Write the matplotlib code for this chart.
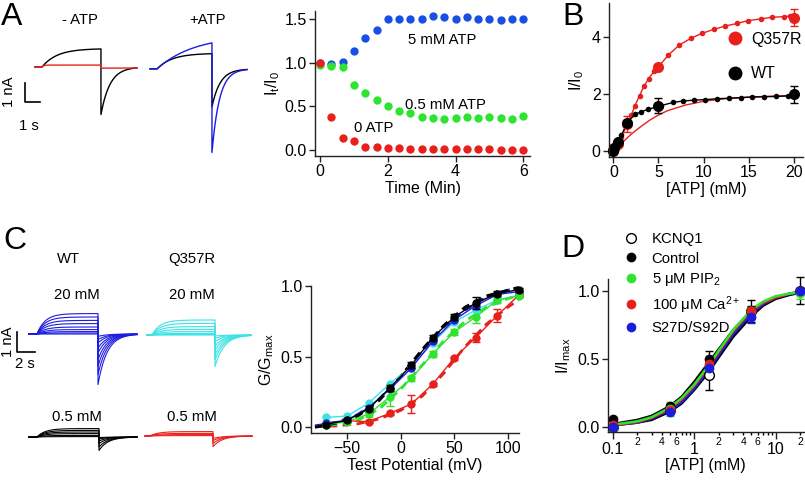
import numpy as np
import matplotlib
matplotlib.use('Agg')
import matplotlib.pyplot as plt
from matplotlib.ticker import FixedLocator, FixedFormatter

plt.rcParams['font.family'] = ['Liberation Sans', 'DejaVu Sans']
plt.rcParams['mathtext.fontset'] = 'custom'
plt.rcParams['mathtext.rm'] = 'Liberation Sans'
plt.rcParams['mathtext.it'] = 'Liberation Sans'
plt.rcParams['font.size'] = 11.5

RED = '#e8201c'
GREEN = '#2fe42f'
BLUE_TC = '#1a4fe6'
BLUE = '#1c1ce0'
CYAN = '#3ce3e6'
TXT = 10.7

# ---- panel A, time course (fraction of I0 vs minutes)
tc_time = [0, 0.33, 0.67, 1.0, 1.33, 1.67, 2.0, 2.33, 2.67, 3.0, 3.33, 3.67,
           4.0, 4.33, 4.67, 5.0, 5.33, 5.67, 6.0]
tc_5mM = [1.0, 0.99, 1.01, 1.14, 1.29, 1.38, 1.50, 1.51, 1.50, 1.51, 1.54, 1.53,
          1.51, 1.53, 1.51, 1.51, 1.49, 1.50, 1.51]
tc_05mM = [0.98, 0.97, 0.95, 0.75, 0.66, 0.57, 0.50, 0.45, 0.42, 0.38, 0.37, 0.36,
           0.37, 0.38, 0.37, 0.38, 0.37, 0.36, 0.39]
tc_0 = [1.0, 0.38, 0.14, 0.10, 0.03, 0.03, 0.02, 0.02, 0.01, 0.01, 0.01, 0.01,
        0.01, 0.01, 0.01, 0.01, 0.0, 0.0, 0.0]

# ---- panel A, example currents (nA): value at end of pulse, tail peak
a_minus_end = {'black': 0.95, 'red': 0.10}
a_minus_tail = {'black': -2.5, 'red': -0.06}
a_plus_end = {'black': 0.80, 'blue': 1.37}
a_plus_tail = {'black': -2.0, 'blue': -4.4}

# ---- panel B, dose response
atp_b = [0, 0.1, 0.5, 1.5, 5, 20]
q357r_b = [0.02, 0.10, 0.25, 0.95, 2.97, 4.70]
q357r_b_err = [0.05, 0.05, 0.10, 0.28, 0.10, 0.30]
wt_b = [0.0, 0.12, 0.33, 1.00, 1.60, 2.00]
wt_b_err = [0.03, 0.05, 0.05, 0.10, 0.25, 0.30]
q357r_fit_x = [0.1, 0.4, 0.9, 1.5, 2.0, 2.4, 2.9, 3.4, 3.9, 4.5, 5.0, 6.1, 7.3,
               8.6, 9.8, 11.1, 12.4, 13.7, 14.9, 16.3, 17.6, 18.9, 19.6]
q357r_fit_y = [0.08, 0.27, 0.51, 0.92, 1.27, 1.60, 1.95, 2.28, 2.55, 2.80, 2.97,
               3.38, 3.73, 3.97, 4.14, 4.28, 4.40, 4.49, 4.59, 4.65, 4.71, 4.73, 4.75]
wt_fit_x = [0.1, 0.4, 0.9, 1.5, 2.35, 3.1, 3.85, 5.3, 6.6, 7.7, 8.9, 10.2, 11.5,
            12.8, 14.1, 15.4, 16.7, 18.0, 19.3]
wt_fit_y = [0.10, 0.30, 0.55, 0.98, 1.29, 1.38, 1.47, 1.60, 1.71, 1.76, 1.79, 1.81,
            1.84, 1.86, 1.88, 1.90, 1.91, 1.92, 1.94]
scaled_fit_x = [0, 1, 2, 3, 4, 5, 6, 8, 10, 12, 15, 20]
scaled_fit_y = [0, 0.30, 0.60, 0.85, 1.08, 1.27, 1.42, 1.62, 1.75, 1.83, 1.90, 1.96]

# ---- panel C, current families (nA)
wt20_end = [1.02, 0.85, 0.68, 0.52, 0.35, 0.22, 0.12, 0.05, 0.0]
wt20_tail = [-2.53, -2.03, -1.62, -1.28, -0.95, -0.70, -0.45, -0.28, -0.12]
q20_end = [0.75, 0.58, 0.42, 0.28, 0.17, 0.08, 0.03, 0.0]
q20_tail = [-1.58, -1.25, -1.0, -0.75, -0.55, -0.33, -0.17, -0.05]
wt05_end = [0.42, 0.33, 0.25, 0.17, 0.08, 0.02]
wt05_tail = [-0.67, -0.50, -0.33, -0.20, -0.10, -0.03]
q05_end = [0.22, 0.13, 0.07, 0.02]
q05_tail = [-0.53, -0.37, -0.23, -0.12]

# ---- panel C, G/Gmax
volts = [-70, -50, -30, -10, 10, 30, 50, 70, 90, 110]
g_black = [0.02, 0.05, 0.13, 0.28, 0.44, 0.635, 0.78, 0.88, 0.946, 0.974]
g_black_err = [0.01, 0.01, 0.02, 0.02, 0.02, 0.02, 0.02, 0.045, 0.02, 0.01]
g_blue = [0.03, 0.05, 0.14, 0.27, 0.42, 0.61, 0.76, 0.86, 0.94, 0.96]
g_cyan = [0.07, 0.08, 0.17, 0.31, 0.43, 0.60, 0.746, 0.83, 0.90, 0.934]
g_green = [0.02, 0.04, 0.094, 0.216, 0.346, 0.52, 0.675, 0.78, 0.90, 0.93]
g_green_err = [0.01, 0.01, 0.02, 0.065, 0.02, 0.02, 0.02, 0.04, 0.02, 0.01]
g_red = [None, 0.047, 0.04, 0.10, 0.165, 0.306, 0.49, 0.635, 0.79, 0.934]
g_red_err = [0, 0.01, 0.012, 0.01, 0.063, 0.01, 0.01, 0.03, 0.047, 0.01]
fit_volts = [-80, -60, -40, -20, 0, 20, 40, 60, 80, 100, 110]
fit_black = [0.0, 0.03, 0.08, 0.19, 0.36, 0.55, 0.72, 0.85, 0.93, 0.97, 0.99]
fit_blue = [0.01, 0.035, 0.09, 0.20, 0.36, 0.54, 0.71, 0.83, 0.92, 0.97, 0.985]
fit_green = [0.01, 0.02, 0.05, 0.13, 0.27, 0.44, 0.61, 0.75, 0.85, 0.91, 0.935]
fit_red = [0.005, 0.01, 0.025, 0.06, 0.12, 0.22, 0.38, 0.57, 0.73, 0.85, 0.90]

# ---- panel D, normalised dose response
atp_d = [0.1, 0.5, 1.5, 5, 20]
d_kcnq1 = [0.0, 0.12, 0.38, 0.85, 1.0]
d_kcnq1_err = [0.01, 0.02, 0.11, 0.08, 0.10]
d_control = [0.054, 0.15, 0.50, 0.84, 1.0]
d_control_err = [0.01, 0.02, 0.06, 0.05, 0.02]
d_pip2 = [0.0, 0.13, 0.45, 0.85, 0.98]
d_pip2_err = [0.01, 0.05, 0.03, 0.03, 0.04]
d_ca = [0.01, 0.12, 0.46, 0.85, 1.0]
d_ca_err = [0.01, 0.02, 0.03, 0.03, 0.02]
d_s27d = [0.0, 0.11, 0.43, 0.81, 1.0]
d_s27d_err = [0.01, 0.02, 0.03, 0.05, 0.02]
d_fit_x = [0.1, 0.2, 0.3, 0.5, 0.7, 1, 1.5, 2, 3, 5, 7, 10, 15, 20]
d_fit_control = [0.02, 0.05, 0.08, 0.15, 0.22, 0.33, 0.47, 0.57, 0.71, 0.85, 0.91, 0.95, 0.98, 0.99]
d_fit_kcnq1 = [0.01, 0.03, 0.05, 0.11, 0.17, 0.27, 0.40, 0.51, 0.66, 0.81, 0.89, 0.94, 0.97, 0.985]
d_fit_pip2 = [0.015, 0.04, 0.07, 0.14, 0.21, 0.31, 0.45, 0.56, 0.71, 0.86, 0.92, 0.96, 0.98, 0.99]
d_fit_ca = [0.01, 0.035, 0.065, 0.13, 0.20, 0.30, 0.44, 0.55, 0.70, 0.85, 0.91, 0.95, 0.98, 0.99]
d_fit_s27d = [0.01, 0.03, 0.06, 0.12, 0.18, 0.28, 0.42, 0.53, 0.68, 0.83, 0.90, 0.95, 0.975, 0.99]

W, H = 805, 480
fig = plt.figure(figsize=(8.05, 4.8), dpi=100)


def axes_px(left, top, right, bottom):
    return fig.add_axes([left / W, 1 - bottom / H, (right - left) / W, (bottom - top) / H])


def text_px(x, y, s, **kw):
    fig.text(x / W, 1 - y / H, s, **kw)


def igor(ax):
    ax.spines['top'].set_visible(False)
    ax.spines['right'].set_visible(False)
    for s in ['left', 'bottom']:
        ax.spines[s].set_linewidth(1.0)
        ax.spines[s].set_color('#222222')
    ax.tick_params(direction='out', length=4, width=1, labelsize=11.5, pad=2, color='#222222')
    ax.patch.set_alpha(0)


def trace(t_start, t_on, t_off, t_end, i_end, i_tail, tau_on, tau_off):
    t1 = np.linspace(t_on, t_off, 150)
    i_inf = i_end / (1 - np.exp(-(t_off - t_on) / tau_on))
    act = i_inf * (1 - np.exp(-(t1 - t_on) / tau_on))
    t2 = np.linspace(t_off, t_end, 150)
    tail = i_tail * np.exp(-(t2 - t_off) / tau_off)
    return (np.concatenate([[t_start, t_on], t1, t2]),
            np.concatenate([[0, 0], act, tail]))


# ================= A: traces (1 s = 15 px, 1 nA = 19 px)
axt = axes_px(0, 0, 260, 200)
axt.set_xlim(0, 260 / 15)
axt.set_ylim(0, 200 / 19)
axt.axis('off')
for key, c in [('black', 'black'), ('red', RED)]:
    tau_off = 0.6 if key == 'black' else 20
    t, i = trace(2.33, 2.8, 6.73, 9.13, a_minus_end[key], a_minus_tail[key], 1.0 if key == 'black' else 0.1, tau_off)
    axt.plot(t, i + 7.0, color=c, lw=1)
for key, c, ton, toff in [('black', 'black', 1.0, 0.55), ('blue', BLUE, 2.5, 0.5)]:
    t, i = trace(10.0, 10.47, 14.13, 16.47, a_plus_end[key], a_plus_tail[key], ton, toff)
    axt.plot(t, i + 6.9, color=c, lw=1)
axt.plot([1.667, 1.667, 2.667], [6.16, 5.16, 5.16], color='black', lw=1.2)
text_px(9, 92, '1 nA', rotation=90, ha='center', va='center', fontsize=TXT)
text_px(29, 126, '1 s', ha='center', va='center', fontsize=TXT)
text_px(80, 20, '- ATP', ha='center', va='center', fontsize=TXT)
text_px(207, 20, '+ATP', ha='center', va='center', fontsize=TXT)
text_px(12, 17, 'A', ha='center', va='center', fontsize=23)

# ================= A: time course
ax = axes_px(315, 10.8, 530, 156)
igor(ax)
ax.plot(tc_time, tc_5mM, 'o', color=BLUE_TC, ms=6, mec='none')
ax.plot(tc_time, tc_05mM, 'o', color=GREEN, ms=6, mec='none')
ax.plot(tc_time, tc_0, 'o', color=RED, ms=6, mec='none')
ax.set_xlim(-0.15, 6.2)
ax.set_ylim(-0.07, 1.6)
ax.set_xticks([0, 2, 4, 6])
ax.set_yticks([0, 0.5, 1.0, 1.5])
ax.set_yticklabels(['0.0', '0.5', '1.0', '1.5'])
ax.set_xlabel('Time (Min)', labelpad=1)
ax.set_ylabel('I$_t$/I$_0$', labelpad=2)
ax.text(3.6, 1.26, '5 mM ATP', ha='center', va='center', fontsize=TXT)
ax.text(3.71, 0.52, '0.5 mM ATP', ha='center', va='center', fontsize=TXT)
ax.text(1.57, 0.25, '0 ATP', ha='center', va='center', fontsize=TXT)

# ================= B
ax = axes_px(609, 3.3, 803, 157)
igor(ax)
ax.plot(scaled_fit_x, scaled_fit_y, color=RED, lw=1)
ax.plot(q357r_fit_x, q357r_fit_y, color=RED, lw=1)
ax.plot(q357r_fit_x, q357r_fit_y, 'o', color=RED, ms=4, mec='none')
ax.plot(wt_fit_x, wt_fit_y, color='black', lw=1)
ax.plot(wt_fit_x, wt_fit_y, 'o', color='black', ms=4, mec='none')
ax.errorbar(atp_b, q357r_b, yerr=q357r_b_err, fmt='o', color=RED, ms=8, mec='none',
            capsize=3, elinewidth=1, label='Q357R', clip_on=False)
ax.errorbar(atp_b, wt_b, yerr=wt_b_err, fmt='o', color='black', ms=8, mec='none',
            capsize=3, elinewidth=1, label='WT', clip_on=False)
ax.set_xlim(-0.48, 21)
ax.set_ylim(-0.21, 5.2)
ax.set_xticks([0, 5, 10, 15, 20])
ax.set_yticks([0, 2, 4])
ax.set_xlabel('[ATP] (mM)', labelpad=1)
ax.set_ylabel('I/I$_0$', labelpad=4)
h, l = ax.get_legend_handles_labels()
ax.legend([hh[0] for hh in h], l, loc='upper left', bbox_to_anchor=(725 / W, 1 - 32 / H),
          bbox_transform=fig.transFigure, frameon=False, handlelength=1.2, handletextpad=0.45,
          labelspacing=1.2, borderpad=0, borderaxespad=0, fontsize=11.5, numpoints=1,
          markerscale=1.25)
text_px(573, 17, 'B', ha='center', va='center', fontsize=23)

# ================= C: traces (1 s = 9 px, 1 nA = 20 px)
axc = axes_px(0, 220, 260, 480)
axc.set_xlim(0, 260 / 9)
axc.set_ylim(0, 13)
axc.axis('off')
families = [
    (wt20_end, wt20_tail, BLUE, 3.22, 4.11, 10.89, 15.22, 7.3),
    (q20_end, q20_tail, CYAN, 16.33, 16.89, 23.89, 27.89, 7.25),
    (wt05_end, wt05_tail, 'black', 3.22, 4.11, 11.0, 15.22, 2.15),
    (q05_end, q05_tail, RED, 16.1, 16.67, 23.67, 28.0, 2.2),
]
for ends, tails, c, ts, ton, toff, te, base in families:
    for ie, it in zip(ends, tails):
        t, i = trace(ts, ton, toff, te, ie, it, 0.9, 1.0)
        axc.plot(t, i + base, color=c, lw=0.8)
axc.plot([1.89, 1.89, 3.89], [7.4, 6.4, 6.4], color='black', lw=1.2)
text_px(8, 342, '1 nA', rotation=90, ha='center', va='center', fontsize=TXT)
text_px(25, 364, '2 s', ha='center', va='center', fontsize=TXT)
text_px(68, 259, 'WT', ha='center', va='center', fontsize=TXT)
text_px(192, 259, 'Q357R', ha='center', va='center', fontsize=TXT)
text_px(77, 295, '20 mM', ha='center', va='center', fontsize=TXT)
text_px(192, 295, '20 mM', ha='center', va='center', fontsize=TXT)
text_px(77, 417, '0.5 mM', ha='center', va='center', fontsize=TXT)
text_px(192, 417, '0.5 mM', ha='center', va='center', fontsize=TXT)
text_px(15, 241, 'C', ha='center', va='center', fontsize=23)

# ================= C: G/Gmax
ax = axes_px(311, 286, 518.5, 433)
igor(ax)
for fy, c in [(fit_red, RED), (fit_green, GREEN), (fit_blue, BLUE), (fit_black, 'black')]:
    ax.plot(fit_volts, fy, '--', color=c, lw=2, dashes=(3, 2), clip_on=False)
v_red = [v for v, g in zip(volts, g_red) if g is not None]
red_vals = [g for g in g_red if g is not None]
red_err = [e for e, g in zip(g_red_err, g_red) if g is not None]
ax.errorbar(v_red, red_vals, yerr=red_err, fmt='-o', color=RED, ms=6, mec='none', lw=1, capsize=3, clip_on=False)
ax.errorbar(volts, g_green, yerr=g_green_err, fmt='-o', color=GREEN, ms=6, mec='none', lw=1, capsize=3, clip_on=False)
ax.plot(volts, g_cyan, '-o', color=CYAN, ms=6, mec='none', lw=1, clip_on=False)
ax.plot(volts, g_blue, '-o', color=BLUE, ms=6, mec='none', lw=1, clip_on=False)
ax.errorbar(volts, g_black, yerr=g_black_err, fmt='-o', color='black', ms=6, mec='none', lw=1, capsize=3, clip_on=False)
ax.set_xlim(-83.7, 110)
ax.set_ylim(-0.04, 1.0)
ax.set_xticks([-50, 0, 50, 100])
ax.set_yticks([0, 0.5, 1.0])
ax.set_yticklabels(['0.0', '0.5', '1.0'])
ax.set_xlabel('Test Potential (mV)', labelpad=1)
ax.set_ylabel('G/G$_{max}$', labelpad=3)

# ================= D
ax = axes_px(608, 278.5, 803.6, 432.3)
igor(ax)
ax.set_xscale('log')
for fy, c in [(d_fit_control, 'black'), (d_fit_kcnq1, 'black'), (d_fit_s27d, BLUE),
              (d_fit_ca, RED), (d_fit_pip2, GREEN)]:
    ax.plot(d_fit_x, fy, color=c, lw=1.8)
ax.errorbar(atp_d, d_kcnq1, yerr=d_kcnq1_err, fmt='o', color='black', mfc='white', mec='black',
            ms=7, capsize=3, elinewidth=1, label='KCNQ1', clip_on=False)
ax.errorbar(atp_d, d_control, yerr=d_control_err, fmt='o', color='black', mec='none',
            ms=7, capsize=3, elinewidth=1, label='Control', clip_on=False)
ax.errorbar(atp_d, d_pip2, yerr=d_pip2_err, fmt='o', color=GREEN, mec='none',
            ms=7, capsize=3, elinewidth=1, label='5 μM PIP$_2$', clip_on=False)
ax.errorbar(atp_d, d_ca, yerr=d_ca_err, fmt='o', color=RED, mec='none',
            ms=7, capsize=3, elinewidth=1, label='100 μM Ca$^{2+}$', clip_on=False)
ax.errorbar(atp_d, d_s27d, yerr=d_s27d_err, fmt='o', color=BLUE, mec='none',
            ms=7, capsize=3, elinewidth=1, label='S27D/S92D', clip_on=False)
ax.set_xlim(0.0876, 22)
ax.set_ylim(-0.041, 1.09)
ax.xaxis.set_major_locator(FixedLocator([0.1, 1, 10]))
ax.xaxis.set_major_formatter(FixedFormatter(['0.1', '1', '10']))
minors = [0.2, 0.3, 0.4, 0.5, 0.6, 0.7, 0.8, 0.9, 2, 3, 4, 5, 6, 7, 8, 9, 20]
minor_labels = ['2', '', '4', '', '6', '', '', '', '2', '', '4', '', '6', '', '', '', '2']
ax.xaxis.set_minor_locator(FixedLocator(minors))
ax.xaxis.set_minor_formatter(FixedFormatter(minor_labels))
ax.tick_params(axis='x', which='minor', direction='out', length=2.5, width=1, labelsize=7.5, pad=1)
ax.tick_params(axis='x', which='major', length=5)
ax.set_yticks([0, 0.5, 1.0])
ax.set_yticklabels(['0.0', '0.5', '1.0'])
ax.set_xlabel('[ATP] (mM)', labelpad=1)
ax.set_ylabel('I/I$_{max}$', labelpad=3)
h, l = ax.get_legend_handles_labels()
ax.legend([hh[0] for hh in h], l, loc='upper left', bbox_to_anchor=(622 / W, 1 - 232 / H),
          bbox_transform=fig.transFigure, frameon=False, handlelength=1.2, handletextpad=0.8,
          labelspacing=0.38, borderpad=0, borderaxespad=0, fontsize=TXT, numpoints=1)
text_px(573, 249, 'D', ha='center', va='center', fontsize=23)

fig.savefig('out.png', dpi=100)
